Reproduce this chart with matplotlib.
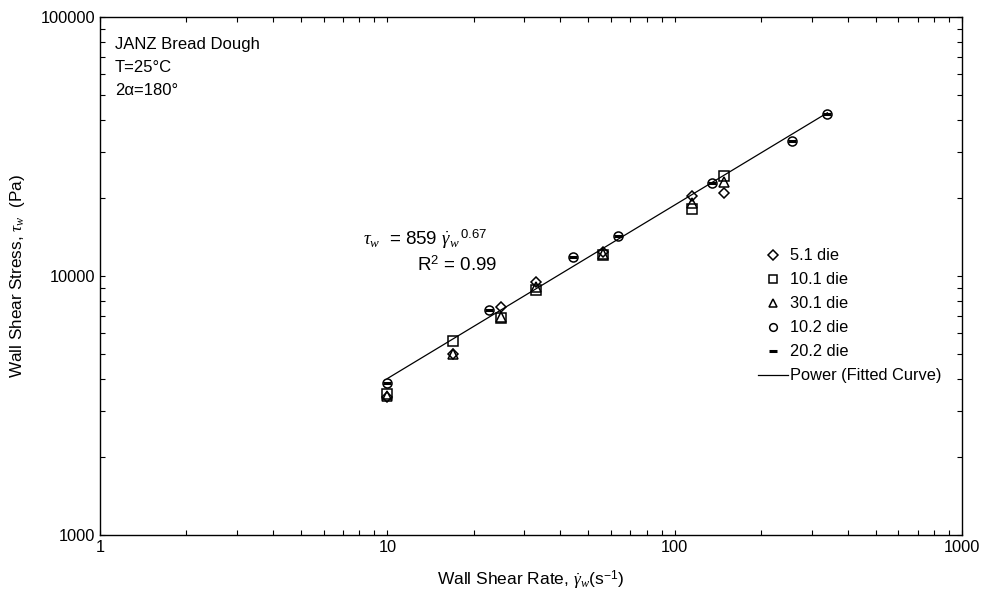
import matplotlib.pyplot as plt
import numpy as np

plt.rcParams['font.family'] = ['Liberation Sans', 'DejaVu Sans']
plt.rcParams['mathtext.fontset'] = 'custom'
plt.rcParams['mathtext.rm'] = 'Liberation Sans'
plt.rcParams['mathtext.it'] = 'Liberation Serif:italic'
plt.rcParams['mathtext.bf'] = 'Liberation Sans:bold'

# wall shear rate (1/s) and wall shear stress (Pa) for each die
rate_51 = [10, 16.9, 24.9, 32.9, 56.3, 115, 148.6]
stress_51 = [3400, 5000, 7600, 9480, 12400, 20400, 20900]

rate_101 = [10, 16.9, 24.9, 32.9, 56.3, 115, 148.6]
stress_101 = [3500, 5600, 6900, 8820, 12000, 18150, 24300]

rate_301 = [10, 16.9, 24.9, 32.9, 56.3, 115, 148.6]
stress_301 = [3450, 5000, 6950, 9060, 12200, 19100, 23000]

rate_102 = [10, 22.6, 44.3, 63.5, 135, 256, 339]
stress_102 = [3850, 7400, 11800, 14300, 22900, 33200, 42200]

rate_202 = [10, 22.6, 44.3, 63.5, 135, 256, 339]
stress_202 = [3850, 7400, 11800, 14300, 22900, 33200, 42200]

# power law fit: tau = K * gamma^n
K_fit = 859
n_fit = 0.67
fit_range = (10, 340)

fig = plt.figure(figsize=(9.93, 5.94), dpi=100)
ax = fig.add_axes([0.1007, 0.0993, 0.8681, 0.8721])

mk = dict(color='black', linestyle='none', fillstyle='none', markersize=6.5, markeredgewidth=1.1)
ax.plot(rate_51, stress_51, marker='D', label='5.1 die', **{**mk, 'markersize': 5.5})
ax.plot(rate_101, stress_101, marker='s', label='10.1 die', **mk)
ax.plot(rate_301, stress_301, marker='^', label='30.1 die', **mk)
ax.plot(rate_102, stress_102, marker='o', label='10.2 die', **mk)
ax.plot(rate_202, stress_202, marker='_', color='black', linestyle='none',
        markersize=6, markeredgewidth=2.2, label='20.2 die')

xf = np.logspace(np.log10(fit_range[0]), np.log10(fit_range[1]), 50)
ax.plot(xf, K_fit * xf ** n_fit, color='black', linewidth=0.9, label='Power (Fitted Curve)')

ax.set_xscale('log')
ax.set_yscale('log')
ax.set_xlim(1, 1000)
ax.set_ylim(1000, 100000)
ax.set_xticks([1, 10, 100, 1000])
ax.set_xticklabels(['1', '10', '100', '1000'])
ax.set_yticks([1000, 10000, 100000])
ax.set_yticklabels(['1000', '10000', '100000'])
ax.tick_params(which='both', direction='in', top=True, right=True, length=3.5,
               width=0.8, labelsize=11.8)
for s in ax.spines.values():
    s.set_linewidth(1.0)

ax.set_xlabel(r'Wall Shear Rate, $\dot{\gamma}_w$(s$^{-1}$)', fontsize=12.5, labelpad=10)
ax.set_ylabel(r'Wall Shear Stress, $\tau_w$  (Pa)', fontsize=12.3, labelpad=10)

ax.text(0.017, 0.962, 'JANZ Bread Dough\nT=25°C\n2α=180°', transform=ax.transAxes,
        fontsize=12, va='top', ha='left', linespacing=1.7)

ax.text(0.305, 0.57, r'$\tau_w$  = 859 $\dot{\gamma}_w$$^{\,0.67}$', transform=ax.transAxes,
        fontsize=13.5, ha='left', va='center')
ax.text(0.368, 0.52, r'R$^2$ = 0.99', transform=ax.transAxes,
        fontsize=13.5, ha='left', va='center')

ax.legend(loc='upper left', bbox_to_anchor=(0.756, 0.566), frameon=False,
          fontsize=11.8, handlelength=1.8, handletextpad=0.15, labelspacing=0.55,
          borderaxespad=0, markerscale=0.85)

fig.savefig('out.png', dpi=100)
